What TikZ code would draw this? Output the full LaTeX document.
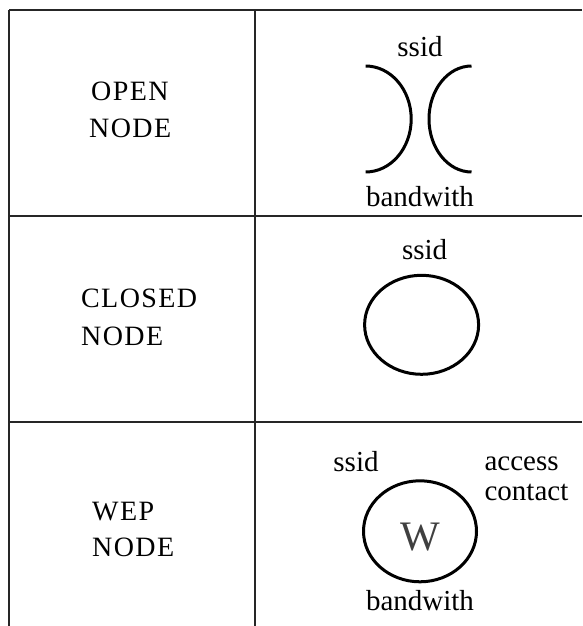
\documentclass[tikz,border=0pt]{standalone}
\usepackage{fontspec}
\setmainfont{Liberation Serif}
\begin{document}
\begin{tikzpicture}[x=1pt,y=-1pt,
  grid/.style={draw=black!85,line width=1.8pt},
  glyph/.style={line width=3pt,black},
  caps/.style={anchor=base west,inner sep=0pt,
    font=\fontsize{28}{30}\selectfont\addfontfeature{LetterSpace=5}},
  lbl/.style={anchor=base,inner sep=0pt,font=\fontsize{29}{31}\selectfont},
  lblw/.style={lbl,anchor=base west}]
\useasboundingbox (0,0) rectangle (582,626);

% table rules
\coordinate (tl) at (9,10);
\coordinate (tm) at (255,10);
\coordinate (tr) at (582,10);
\coordinate (bl) at (9,626);
\coordinate (bm) at (255,626);
\coordinate (r1l) at (9,216);
\coordinate (r1r) at (582,216);
\coordinate (r2l) at (9,422);
\coordinate (r2r) at (582,422);
\draw[grid] (tl) -- (tr);
\draw[grid] (tl) -- (bl);
\draw[grid] (tm) -- (bm);
\draw[grid] (r1l) -- (r1r);
\draw[grid] (r2l) -- (r2r);

% open node
\node[caps] (open1) at (91,100) {OPEN};
\node[caps] (open2) at (89,137) {NODE};
\node[lbl] (ssid1) at (420,56.5) {ssid};
\node[lbl] (bw1) at (420,206.5) {bandwith};
\draw[glyph] (365.6,172) arc[start angle=90,end angle=-90,x radius=45.6,y radius=53];
\draw[glyph] (471.5,172) arc[start angle=90,end angle=270,x radius=42.5,y radius=53];

% closed node
\node[caps] (closed1) at (81,307) {CLOSED};
\node[caps] (closed2) at (81,345) {NODE};
\node[lbl] (ssid2) at (424.6,259) {ssid};
\draw[glyph] (421.6,324.8) ellipse[x radius=57,y radius=49.5];

% wep node
\node[caps] (wep1) at (92,520.7) {WEP};
\node[caps] (wep2) at (92,556.7) {NODE};
\node[lbl] (ssid3) at (356,471.7) {ssid};
\node[lblw] (acc) at (484.4,470) {access};
\node[lblw] (con) at (484.4,500) {contact};
\draw[glyph] (420,531.3) ellipse[x radius=56.5,y radius=50.5];
\node[anchor=base,inner sep=0pt,text=black!75,font=\fontsize{42}{44}\selectfont] (w) at (420,550) {W};
\node[lbl] (bw3) at (420,610) {bandwith};
\end{tikzpicture}
\end{document}
